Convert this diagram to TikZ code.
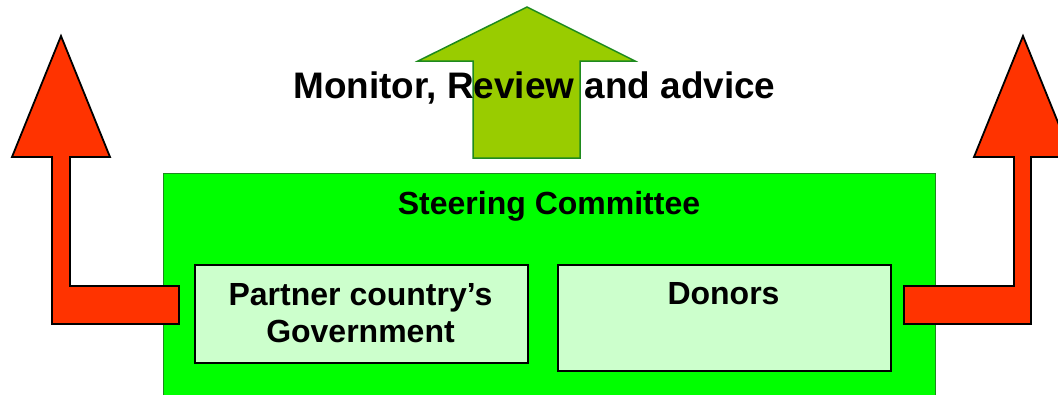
\documentclass[tikz,border=0pt]{standalone}
\usepackage{fontspec}
\setmainfont{Liberation Sans}
\definecolor{arrowred}{HTML}{FF3300}
\definecolor{arrowolive}{HTML}{99CC00}
\definecolor{edgegreen}{HTML}{1E8A1E}
\definecolor{boardgreen}{HTML}{00FF00}
\definecolor{panelgreen}{HTML}{CCFFCC}
\begin{document}
\begin{tikzpicture}[x=1pt,y=-1pt,
  redarrow/.style={draw=black, line width=1.8pt, fill=arrowred, line join=miter},
  upgreen/.style={draw=edgegreen, line width=1.5pt, fill=arrowolive, line join=miter},
  board/.style={draw=edgegreen, line width=1.3pt, fill=boardgreen, inner sep=0pt, anchor=north west},
  panel/.style={draw=black, line width=1.8pt, fill=panelgreen, inner sep=0pt, anchor=north west},
  label/.style={font=\bfseries\fontsize{32}{37}\selectfont, inner sep=0pt, anchor=base, align=center}]
\useasboundingbox (0,0) rectangle (1058,394);

% upward arrow behind the heading
\draw[upgreen] (418,61) -- (527,7) -- (635,61) -- (580,61) -- (580,158)
  -- (473,158) -- (473,61) -- cycle;
\node[label, font=\bfseries\fontsize{36.9}{40}\selectfont] (monitor) at (534.5,98)
  {Monitor, Review and advice};

% steering committee board
\node[board, minimum width=772pt, minimum height=240pt] (board) at (163,173) {};
\node[label] (boardtitle) at (549,214) {Steering Committee};

% side arrows leaving the board
\draw[redarrow] (12,157) -- (61,36) -- (110,157) -- (70,157) -- (70,286)
  -- (179,286) -- (179,324) -- (52,324) -- (52,157) -- cycle;
\draw[redarrow] (1072,157) -- (1023,36) -- (974,157) -- (1014,157) -- (1014,286)
  -- (904,286) -- (904,324) -- (1031,324) -- (1031,157) -- cycle;

% member panels (a multi-line label sits on its last baseline)
\node[panel, minimum width=333pt, minimum height=98pt] (partner) at (194,264) {};
\node[label] (partnertext) at (360.5,342) {Partner country’s\\Government};
\node[panel, minimum width=333pt, minimum height=106pt] (donors) at (557,264) {};
\node[label] (donorstext) at (723.5,304) {Donors};
\end{tikzpicture}
\end{document}
